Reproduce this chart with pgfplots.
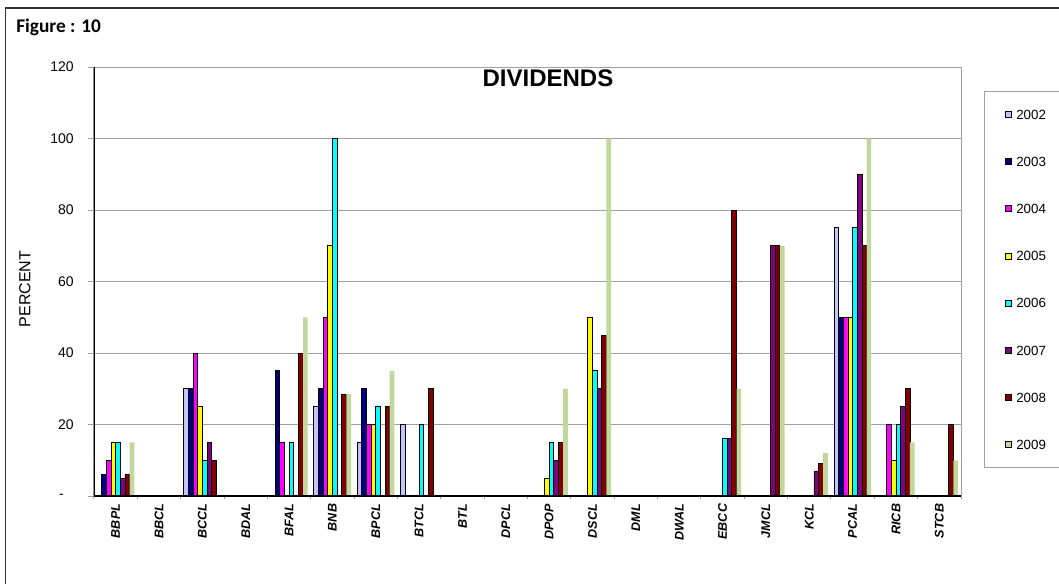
\documentclass[border=0pt]{standalone}
\usepackage{fontspec}
\setmainfont{Liberation Sans}
\newfontfamily\calibri{Carlito}
\usepackage{pgfplots}
\pgfplotsset{compat=1.18}

\definecolor{c2002}{HTML}{C4C4FA}
\definecolor{c2003}{HTML}{000080}
\definecolor{c2004}{HTML}{FF00FF}
\definecolor{c2005}{HTML}{FFFF00}
\definecolor{c2006}{HTML}{00FFFF}
\definecolor{c2007}{HTML}{800080}
\definecolor{c2008}{HTML}{800000}
\definecolor{c2009}{HTML}{C3D69B}
\definecolor{gridgray}{HTML}{A0A0A0}

% one bar series: bar shift in category units
\pgfplotsset{
  yr/.style={ybar, bar width=0.1073, bar shift=#1, draw=black, line width=0.6pt,
    legend image code/.code={\draw[##1] (0pt,-2.4pt) rectangle (4.5pt,2.1pt);}},
}

\begin{document}
\begin{tikzpicture}[x=0.75pt,y=0.75pt]
\useasboundingbox (0,0) rectangle (1059,583);
\draw[line width=1pt, black!80] (5.5,-5) -- (5.5,575) -- (1070,575);
\node[anchor=base west, inner sep=0pt, font=\calibri\bfseries\fontsize{14.5pt}{17pt}\selectfont] at (16,550) {Figure : 10};
\begin{axis}[
  at={(70.5pt,65.25pt)}, anchor=south west,
  scale only axis, width=650.25pt, height=321.75pt,
  xmin=-0.5, xmax=19.5, ymin=0, ymax=120,
  axis line style={gridgray, line width=0.75pt},
  tick align=outside, tick pos=left,
  major tick length=4.5pt,
  tick style={gridgray, line width=0.75pt},
  ymajorgrids, major grid style={gridgray, line width=0.75pt},
  ytick={20,40,60,80,100,120},
  yticklabels={20,40,60,80,100,120},
  extra y ticks={0},
  extra y tick labels={-},
  extra y tick style={yticklabel shift=18pt},
  yticklabel style={font=\fontsize{10.5pt}{12pt}\selectfont, inner sep=0pt},
  yticklabel shift=10.5pt,
  xtick={0,...,19},
  xtick style={draw=none},
  xticklabels={BBPL,BBCL,BCCL,BDAL,BFAL,BNB,BPCL,BTCL,BTL,DPCL,DPOP,DSCL,DML,DWAL,EBCC,JMCL,KCL,PCAL,RICB,STCB},
  xticklabel style={rotate=90, anchor=east, inner sep=0pt, font=\bfseries\itshape\fontsize{9.4pt}{10pt}\selectfont},
  xticklabel shift=1.25pt,
  extra x ticks={-0.5,0.5,...,19.5},
  extra x tick labels={},
  extra x tick style={xtick style={draw=gridgray, line width=0.75pt}, major tick length=2.5pt},
  ylabel={PERCENT},
  ylabel style={at={(axis description cs:-0.0796,0.4825)}, anchor=center, font=\fontsize{12pt}{14pt}\selectfont},
  title={DIVIDENDS},
  title style={at={(axis description cs:0.5236,0.935)}, anchor=base, inner sep=0pt, font=\bfseries\fontsize{18pt}{20pt}\selectfont},
  legend style={at={(axis description cs:1.0265,0.944)}, anchor=north west,
    draw=gridgray, line width=0.75pt, fill=white,
    inner xsep=15.75pt, inner ysep=13.4pt, row sep=27.85pt, column sep=3pt,
    font=\fontsize{10pt}{12pt}\selectfont,
    nodes={inner sep=0pt, text height=7.5pt, text depth=0pt}},
  legend cell align=left,
]
\addplot[yr=-0.37555, fill=c2002] coordinates {(2,30) (5,25) (6,15) (7,20) (17,75)};
\addplot[yr=-0.26825, fill=c2003] coordinates {(0,6) (2,30) (4,35) (5,30) (6,30) (17,50)};
\addplot[yr=-0.16095, fill=c2004] coordinates {(0,10) (2,40) (4,15) (5,50) (6,20) (17,50) (18,20)};
\addplot[yr=-0.05365, fill=c2005] coordinates {(0,15) (2,25) (5,70) (6,20) (10,5) (11,50) (17,50) (18,10)};
\addplot[yr=0.05365, fill=c2006] coordinates {(0,15) (2,10) (4,15) (5,100) (6,25) (7,20) (10,15) (11,35) (14,16) (17,75) (18,20)};
\addplot[yr=0.16095, fill=c2007] coordinates {(0,5) (2,15) (10,10) (11,30) (14,16) (15,70) (16,7) (17,90) (18,25)};
\addplot[yr=0.26825, fill=c2008] coordinates {(0,6) (2,10) (4,40) (5,28.5) (6,25) (7,30) (10,15) (11,45) (14,80) (15,70) (16,9) (17,70) (18,30) (19,20)};
\addplot[yr=0.37555, fill=c2009, draw=none] coordinates {(0,15) (4,50) (5,28.5) (6,35) (10,30) (11,100) (14,30) (15,70) (16,12) (17,100) (18,15) (19,10)};
\legend{2002,2003,2004,2005,2006,2007,2008,2009}
\draw[black, line width=1pt] (rel axis cs:0,1) -- (rel axis cs:0,0) -- (rel axis cs:1,0);
\end{axis}
\end{tikzpicture}
\end{document}
